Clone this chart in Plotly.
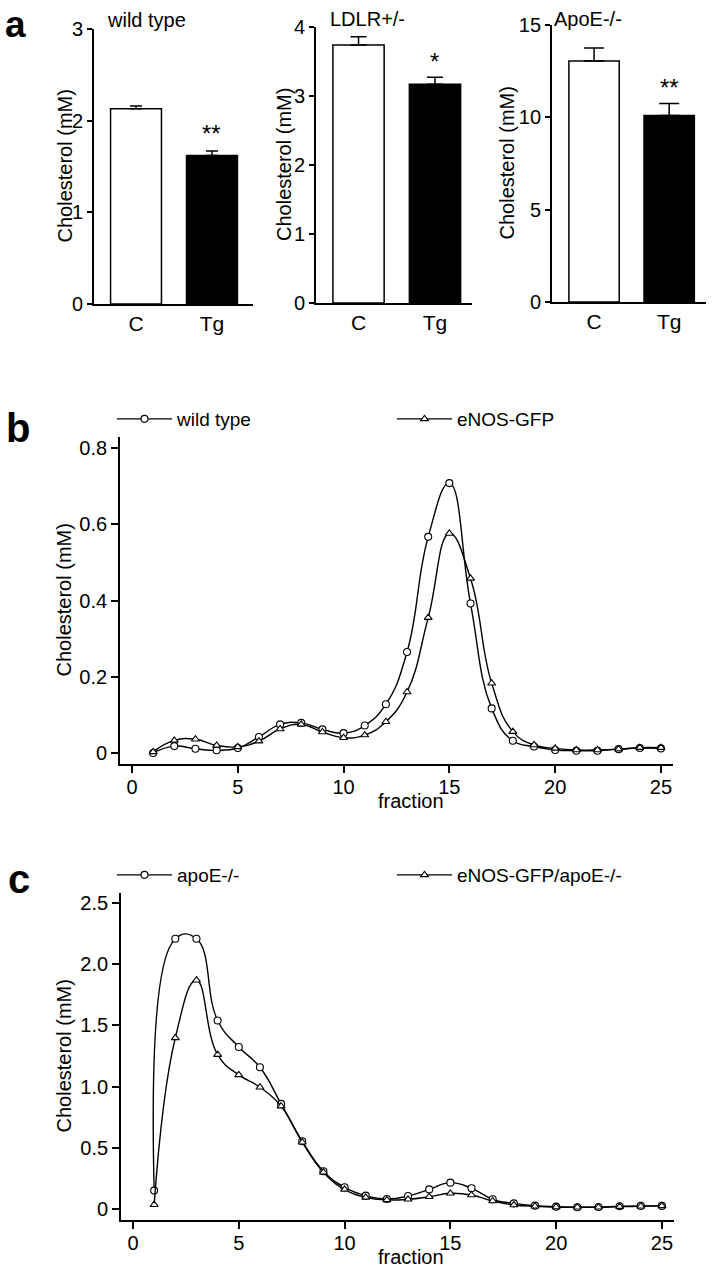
import plotly.graph_objects as go

W, H = 716, 1280
FONT = "Liberation Sans, Arial, sans-serif"

# ---------------- data ----------------
bar_groups = ["C", "Tg"]
wt_means = [2.13, 1.62]
wt_err = [0.03, 0.05]
ldlr_means = [3.74, 3.17]
ldlr_err = [0.12, 0.10]
apoe_means = [13.05, 10.10]
apoe_err = [0.70, 0.65]
bar_titles = ["wild type", "LDLR+/-", "ApoE-/-"]
bar_sig = ["**", "*", "**"]

fractions = list(range(1, 26))
b_wildtype = [0.0, 0.018, 0.011, 0.007, 0.013, 0.042, 0.075, 0.079, 0.062, 0.052,
              0.072, 0.128, 0.265, 0.567, 0.708, 0.392, 0.117, 0.032, 0.017, 0.008,
              0.006, 0.006, 0.010, 0.013, 0.012]
b_enos = [0.003, 0.033, 0.036, 0.020, 0.016, 0.031, 0.063, 0.075, 0.055, 0.040,
          0.047, 0.082, 0.160, 0.355, 0.576, 0.458, 0.183, 0.056, 0.021, 0.012,
          0.008, 0.008, 0.010, 0.014, 0.014]
c_apoe = [0.15, 2.206, 2.206, 1.539, 1.323, 1.157, 0.858, 0.553, 0.308, 0.177,
          0.109, 0.082, 0.106, 0.160, 0.215, 0.169, 0.079, 0.046, 0.027, 0.019,
          0.014, 0.016, 0.022, 0.025, 0.025]
c_enos_apoe = [0.035, 1.397, 1.868, 1.260, 1.095, 0.994, 0.840, 0.545, 0.300, 0.160,
               0.095, 0.074, 0.079, 0.100, 0.128, 0.114, 0.065, 0.033, 0.022, 0.016,
               0.014, 0.014, 0.019, 0.022, 0.025]

x_ticks = [0, 5, 10, 15, 20, 25]
b_yticks = [0, 0.2, 0.4, 0.6, 0.8]
b_yticktext = ["0", "0.2", "0.4", "0.6", "0.8"]
c_yticks = [0, 0.5, 1.0, 1.5, 2.0, 2.5]
c_yticktext = ["0", "0.5", "1.0", "1.5", "2.0", "2.5"]


def xd(a, b):
    return [a / W, b / W]


def yd(top, bottom):
    return [1 - bottom / H, 1 - top / H]


def px(x):
    return x / W


def py(y):
    return 1 - y / H


fig = go.Figure()

axis_common = dict(showline=True, linecolor="black", linewidth=1.8, showgrid=False,
                   zeroline=False, tickfont=dict(family=FONT, size=20, color="black"),
                   ticks="outside", tickcolor="black", tickwidth=1.5, automargin=False)

# ---------------- panel a: bar charts ----------------
bar_sets = [
    (wt_means, wt_err, [0, 3], [0, 1, 2, 3], (94, 253), (29, 304), (-0.553, 1.54), 6),
    (ldlr_means, ldlr_err, [0, 4], [0, 1, 2, 3, 4], (316, 472), (27, 303), (-0.556, 1.484), 8),
    (apoe_means, apoe_err, [0, 15], [0, 5, 10, 15], (552, 706), (25, 302), (-0.56, 1.49), 10),
]
title_pos = [(146, 20), (367, 19), (588, 19)]
ytitle_x = [64, 284, 507]
sig_y = [1.86, 3.50, 11.6]

for i, (means, errs, yr, yt, xdom, ydom, xr, capw) in enumerate(bar_sets):
    n = i + 1
    xa = "x" if n == 1 else f"x{n}"
    ya = "y" if n == 1 else f"y{n}"
    fig.add_trace(go.Bar(
        x=bar_groups, y=means, width=0.67,
        marker=dict(color=["white", "black"], line=dict(color="black", width=1.5)),
        error_y=dict(type="data", symmetric=False, array=errs, arrayminus=[0, 0],
                     color="black", thickness=1.5, width=capw),
        xaxis=xa, yaxis=ya, showlegend=False))
    fig.update_layout(**{
        f"xaxis{'' if n == 1 else n}": dict(axis_common, domain=xd(*xdom), range=list(xr),
                                              type="category", ticks="", anchor=ya,
                                              tickfont=dict(family=FONT, size=21, color="black")),
        f"yaxis{'' if n == 1 else n}": dict(axis_common, domain=yd(*ydom), range=yr,
                                              tickvals=yt, ticklen=5, anchor=xa),
    })
    fig.add_annotation(x=px(title_pos[i][0]), y=py(title_pos[i][1]), xref="paper", yref="paper",
                       text=bar_titles[i], showarrow=False, xanchor="center", yanchor="middle",
                       font=dict(family=FONT, size=20, color="black"))
    fig.add_annotation(x=px(ytitle_x[i]), y=py((ydom[0] + ydom[1]) / 2), xref="paper", yref="paper",
                       text="Cholesterol (mM)", textangle=-90, showarrow=False,
                       xanchor="center", yanchor="middle",
                       font=dict(family=FONT, size=20, color="black"))
    fig.add_annotation(x="Tg", y=sig_y[i], xref=xa, yref=ya, text=bar_sig[i], showarrow=False,
                       xanchor="center", yanchor="middle",
                       font=dict(family=FONT, size=24, color="black"))

# ---------------- panels b and c: line charts ----------------
line_panels = [
    ("x4", "y4", b_wildtype, b_enos, "wild type", "eNOS-GFP", (120, 673), (437, 764),
     [-0.567, 25.57], [-0.0289, 0.829], b_yticks, b_yticktext, "legend", 419, 801),
    ("x5", "y5", c_apoe, c_enos_apoe, "apoE-/-", "eNOS-GFP/apoE-/-", (121, 674), (893, 1220),
     [-0.567, 25.57], [-0.09, 2.58], c_yticks, c_yticktext, "legend2", 875, 1257),
]

for (xa, ya, s1, s2, n1, n2, xdom, ydom, xr, yr, ytv, ytt, leg, legy, fry) in line_panels:
    fig.add_trace(go.Scatter(
        x=fractions, y=s1, name=n1, mode="lines+markers",
        line=dict(color="black", width=1.4, shape="spline", smoothing=1.3),
        marker=dict(symbol="circle", size=7, color="white", line=dict(color="black", width=1.1)),
        xaxis=xa, yaxis=ya, legend=leg))
    fig.add_trace(go.Scatter(
        x=fractions, y=s2, name=n2, mode="lines+markers",
        line=dict(color="black", width=1.4, shape="spline", smoothing=1.3),
        marker=dict(symbol="triangle-up", size=7, color="white", line=dict(color="black", width=1.1)),
        xaxis=xa, yaxis=ya, legend=leg))
    k = xa[1:]
    fig.update_layout(**{
        f"xaxis{k}": dict(axis_common, domain=xd(*xdom), range=xr, tickvals=x_ticks,
                          ticklen=7, anchor=ya, ticklabelstandoff=-3),
        f"yaxis{k}": dict(axis_common, domain=yd(*ydom), range=yr, tickvals=ytv, ticktext=ytt,
                          ticklen=7, anchor=xa),
        leg: dict(x=px(112), y=py(legy), xanchor="left", yanchor="middle", orientation="h",
                  entrywidth=210, entrywidthmode="pixels", itemwidth=55, bgcolor="rgba(0,0,0,0)",
                  font=dict(family=FONT, size=19, color="black"), tracegroupgap=0),
    })
    fig.add_annotation(x=px(411), y=py(fry), xref="paper", yref="paper", text="fraction",
                       showarrow=False, xanchor="center", yanchor="middle",
                       font=dict(family=FONT, size=20, color="black"))
    fig.add_annotation(x=px(63), y=py((ydom[0] + ydom[1]) / 2), xref="paper", yref="paper",
                       text="Cholesterol (mM)", textangle=-90, showarrow=False,
                       xanchor="center", yanchor="middle",
                       font=dict(family=FONT, size=20, color="black"))

# panel labels
for lab, x, y, fs in [("a", 3, 24, 37), ("b", 4, 428, 40), ("c", 6, 879, 40)]:
    fig.add_annotation(x=px(x), y=py(y), xref="paper", yref="paper", text=f"<b>{lab}</b>",
                       showarrow=False, xanchor="left", yanchor="middle",
                       font=dict(family=FONT, size=fs, color="black"))

fig.update_layout(width=W, height=H, margin=dict(l=0, r=0, t=0, b=0, pad=0, autoexpand=False),
                  paper_bgcolor="white", plot_bgcolor="white", bargap=0.3)

fig.write_html("out.html", config={"displayModeBar": False},
               post_script="document.body.style.margin='0';document.body.style.padding='0';"
                           "document.documentElement.style.overflow='hidden';"
                           "document.body.style.overflow='hidden';")
